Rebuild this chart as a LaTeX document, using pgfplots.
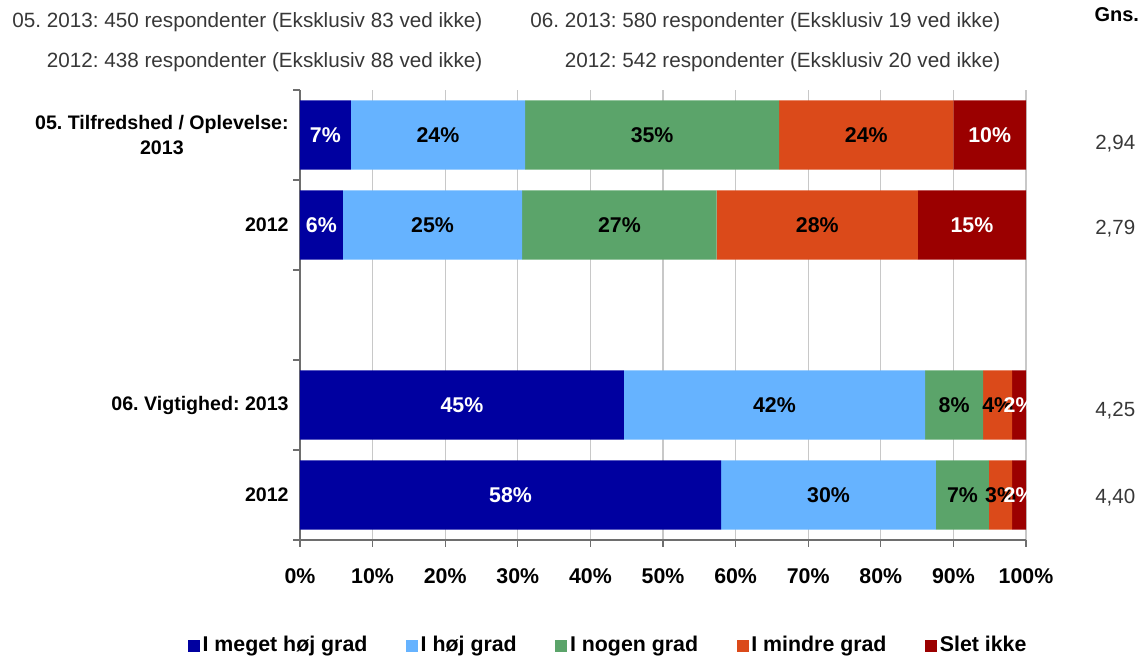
\documentclass[border=0pt]{standalone}
\usepackage{fontspec}
\setmainfont{Liberation Sans}
\usepackage{pgfplots}
\pgfplotsset{compat=1.18}
\definecolor{DarkBlue}{RGB}{0,0,160}
\definecolor{LightBlue}{RGB}{102,179,255}
\definecolor{MidGreen}{RGB}{91,164,106}
\definecolor{RedOrange}{RGB}{219,74,26}
\definecolor{DarkRed}{RGB}{155,0,0}
\definecolor{AxisGray}{RGB}{110,110,110}
\definecolor{GridGray}{RGB}{200,200,200}
\definecolor{TextGray}{RGB}{55,55,55}

\newcommand{\fs}[1]{\fontsize{#1}{#1}\selectfont}
\frenchspacing

\begin{document}
\begin{tikzpicture}
\path[use as bounding box] (-225pt,-88.5pt) rectangle (630.75pt,405pt);
\begin{axis}[
    at={(0,0)}, anchor=south west,
    scale only axis, width=544.5pt, height=337.5pt,
    xbar stacked, bar width=52pt,
    xmin=0, xmax=100, ymin=-0.5, ymax=4.5,
    axis lines*=left,
    axis line style={draw=AxisGray, line width=1pt},
    tick align=outside,
    major tick length=5pt, minor tick length=5pt,
    xtick={0,10,...,100},
    xticklabels={0\%,10\%,20\%,30\%,40\%,50\%,60\%,70\%,80\%,90\%,100\%},
    xticklabel style={font=\fs{16}\bfseries, yshift=-13pt},
    x tick style={draw=AxisGray, line width=1pt},
    ytick={0,1,3,4},
    yticklabels={2012, 06. Vigtighed: 2013, 2012, {05. Tilfredshed / Oplevelse:\\2013}},
    yticklabel style={font=\fontsize{14.7}{19}\selectfont\bfseries, align=center},
    minor ytick={-0.5,0.5,...,4.5},
    major y tick style={draw=none},
    minor y tick style={draw=AxisGray, line width=1pt},
    xmajorgrids,
    grid style={draw=GridGray, line width=0.8pt},
    legend style={at={(0.425,-0.233)}, anchor=center, draw=none, fill=none,
        legend columns=-1, font=\fs{16}\bfseries,
        /tikz/every even column/.append style={column sep=27pt}},
    legend image code/.code={\fill[#1] (0pt,-5pt) rectangle (9pt,4pt);},
]
\addplot[fill=DarkBlue, draw=none] coordinates {(7,4) (5.9,3) (44.6,1) (58,0)};
\addplot[fill=LightBlue, draw=none] coordinates {(24,4) (24.7,3) (41.5,1) (29.6,0)};
\addplot[fill=MidGreen, draw=none] coordinates {(35,4) (26.8,3) (8.0,1) (7.3,0)};
\addplot[fill=RedOrange, draw=none] coordinates {(24,4) (27.7,3) (4.0,1) (3.2,0)};
\addplot[fill=DarkRed, draw=none] coordinates {(10,4) (14.9,3) (1.9,1) (1.9,0)};
\legend{I meget høj grad, I høj grad, I nogen grad, I mindre grad, Slet ikke}
\end{axis}

% labels: second axis on the same frame, not stacked
\begin{axis}[
    at={(0,0)}, anchor=south west,
    scale only axis, width=544.5pt, height=337.5pt,
    xmin=0, xmax=100, ymin=-0.5, ymax=4.5,
    axis lines=none, clip=false,
    point meta=explicit symbolic,
    every node near coord/.append style={anchor=center, inner sep=0pt},
]
\addplot[draw=none, mark=none, nodes near coords={\pgfplotspointmeta\%},
    every node near coord/.append style={text=black, font=\fs{16}\bfseries}]
    table[meta=label] {
x     y  label
19    4  24
48.5  4  35
78    4  24
18.25 3  25
44.0  3  27
71.25 3  28
65.35 1  42
90.1  1  8
96.1  1  4
72.8  0  30
91.25 0  7
96.5  0  3
};
\addplot[draw=none, mark=none, nodes near coords={\pgfplotspointmeta\%},
    every node near coord/.append style={text=white, font=\fs{16}\bfseries}]
    table[meta=label] {
x     y  label
3.5   4  7
95    4  10
2.95  3  6
92.55 3  15
22.3  1  45
99.05 1  2
29    0  58
99.05 0  2
};
\addplot[draw=none, mark=none, nodes near coords={\pgfplotspointmeta},
    every node near coord/.append style={text=TextGray, font=\fs{15.4}}]
    table[meta=label] {
x     y     label
112.3 3.9   2,94
112.3 2.96  2,79
112.3 0.94  4,25
112.3 -0.03 4,40
};
\node[font=\fs{15}\bfseries, text=black] at (rel axis cs:1.125,1.167) {Gns.};
\node[font=\fs{15.5}, text=TextGray, anchor=east] at (rel axis cs:0.2576,1.151) {05. 2013: 450 respondenter (Eksklusiv 83 ved ikke)};
\node[font=\fs{15.5}, text=TextGray, anchor=east] at (rel axis cs:0.2576,1.062) {2012: 438 respondenter (Eksklusiv 88 ved ikke)};
\node[font=\fs{15.5}, text=TextGray, anchor=east] at (rel axis cs:0.971,1.151) {06. 2013: 580 respondenter (Eksklusiv 19 ved ikke)};
\node[font=\fs{15.5}, text=TextGray, anchor=east] at (rel axis cs:0.971,1.062) {2012: 542 respondenter (Eksklusiv 20 ved ikke)};
\end{axis}
\end{tikzpicture}
\end{document}
